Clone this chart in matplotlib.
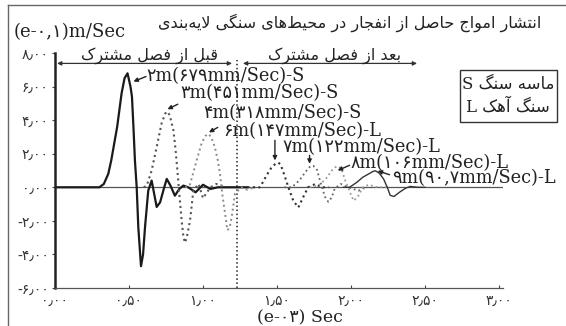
import matplotlib
matplotlib.use("Agg")
import matplotlib.pyplot as plt
from matplotlib.patches import Rectangle
from matplotlib.lines import Line2D

# ---- data: time in (e-03) Sec, velocity in (e-01) m/Sec ----
t_2m = [0.00, 0.30, 0.33, 0.36, 0.38, 0.40, 0.42, 0.45, 0.47, 0.49, 0.51, 0.52, 0.53, 0.54,
        0.552, 0.563, 0.581, 0.595, 0.608, 0.63, 0.653, 0.687, 0.71, 0.735, 0.755, 0.78,
        0.81, 0.84, 0.867, 0.90, 0.95, 1.00, 1.05, 1.10, 1.30]
v_2m = [0.0, 0.0, 0.2, 0.8, 1.6, 2.6, 3.6, 5.6, 6.5, 6.79, 6.0, 5.4, 3.6, 1.6,
        0.0, -2.4, -4.7, -4.0, -2.4, -0.2, 0.4, -1.17, -0.9, -0.1, 0.5, 0.1,
        -0.5, -0.1, 0.1, 0.0, -0.3, 0.15, -0.1, 0.0, 0.0]

t_3m = [0.60, 0.62, 0.653, 0.687, 0.72, 0.745, 0.759, 0.775, 0.80, 0.815, 0.827, 0.84,
        0.856, 0.867, 0.878, 0.89, 0.912, 0.935, 0.97, 1.00, 1.05, 1.09, 1.15]
v_3m = [0.0, 0.1, 1.0, 2.4, 3.8, 4.4, 4.51, 4.3, 3.4, 2.2, 1.0, -0.4,
        -2.0, -2.9, -3.3, -3.0, -2.0, -0.2, 0.2, -0.65, 0.0, 0.2, 0.0]

t_4m = [0.88, 0.91, 0.957, 0.99, 1.015, 1.036, 1.055, 1.08, 1.10, 1.115, 1.13, 1.149,
        1.165, 1.18, 1.194, 1.216, 1.26, 1.30, 1.35]
v_4m = [0.0, 0.1, 1.6, 2.6, 3.05, 3.18, 3.0, 2.4, 1.6, 0.8, -0.4, -1.57,
        -2.56, -2.4, -1.77, -0.38, 0.0, -0.15, 0.0]

t_6m = [1.30, 1.385, 1.43, 1.464, 1.49, 1.509, 1.525, 1.543, 1.577, 1.61, 1.644, 1.678,
        1.71, 1.76, 1.80, 1.85]
v_6m = [0.0, 0.0, 0.71, 1.2, 1.4, 1.47, 1.35, 0.9, 0.0, -0.8, -1.2, -0.57,
        0.0, 0.2, 0.0, 0.0]

t_7m = [1.55, 1.60, 1.65, 1.70, 1.725, 1.745, 1.77, 1.79, 1.824, 1.847, 1.87, 1.89,
        1.93, 1.98, 2.05, 2.10]
v_7m = [0.0, 0.0, 0.4, 1.0, 1.25, 1.28, 1.05, 0.42, -0.57, -0.87, -0.6, -0.08,
        0.2, 0.0, -0.2, 0.0]

t_8m = [1.72, 1.78, 1.83, 1.87, 1.895, 1.915, 1.935, 1.96, 1.985, 2.005, 2.02, 2.05,
        2.08, 2.12, 2.18, 2.25]
v_8m = [0.0, 0.1, 0.5, 1.0, 1.2, 1.25, 1.1, 0.42, -0.1, -0.57, -0.8, -0.5,
        0.0, 0.15, 0.0, 0.0]

t_9m = [1.95, 1.99, 2.04, 2.08, 2.12, 2.15, 2.165, 2.19, 2.22, 2.245, 2.265, 2.29,
        2.33, 2.37, 2.40, 2.45, 2.50]
v_9m = [0.0, 0.0, 0.3, 0.6, 0.8, 0.95, 0.98, 0.85, 0.5, 0.0, -0.48, -0.55,
        -0.28, -0.05, 0.05, 0.0, 0.0]

x_ticks = [0.0, 0.5, 1.0, 1.5, 2.0, 2.5, 3.0]
y_ticks = [-6, -4, -2, 0, 2, 4, 6, 8]
interface_t = 1.23

labels = ['۲m(۶۷۹mm/Sec)-S', '۳m(۴۵۱mm/Sec)-S', '۴m(۳۱۸mm/Sec)-S', '۶m(۱۴۷mm/Sec)-L',
          '۷m(۱۲۲mm/Sec)-L', '۸m(۱۰۶mm/Sec)-L', '۹m(۹۰,۷mm/Sec)-L']

# ---- simple Persian shaping (no arabic_reshaper available) ----
FORMS = {
    'ا': ('\uFE8D', '\uFE8E', None, None),
    'آ': ('\uFE81', '\uFE82', None, None),
    'ب': ('\uFE8F', '\uFE90', '\uFE91', '\uFE92'),
    'ت': ('\uFE95', '\uFE96', '\uFE97', '\uFE98'),
    'ج': ('\uFE9D', '\uFE9E', '\uFE9F', '\uFEA0'),
    'ح': ('\uFEA1', '\uFEA2', '\uFEA3', '\uFEA4'),
    'د': ('\uFEA9', '\uFEAA', None, None),
    'ر': ('\uFEAD', '\uFEAE', None, None),
    'ز': ('\uFEAF', '\uFEB0', None, None),
    'س': ('\uFEB1', '\uFEB2', '\uFEB3', '\uFEB4'),
    'ش': ('\uFEB5', '\uFEB6', '\uFEB7', '\uFEB8'),
    'ص': ('\uFEB9', '\uFEBA', '\uFEBB', '\uFEBC'),
    'ط': ('\uFEC1', '\uFEC2', '\uFEC3', '\uFEC4'),
    'ع': ('\uFEC9', '\uFECA', '\uFECB', '\uFECC'),
    'ف': ('\uFED1', '\uFED2', '\uFED3', '\uFED4'),
    'ق': ('\uFED5', '\uFED6', '\uFED7', '\uFED8'),
    'ل': ('\uFEDD', '\uFEDE', '\uFEDF', '\uFEE0'),
    'م': ('\uFEE1', '\uFEE2', '\uFEE3', '\uFEE4'),
    'ن': ('\uFEE5', '\uFEE6', '\uFEE7', '\uFEE8'),
    'ه': ('\uFEE9', '\uFEEA', '\uFEEB', '\uFEEC'),
    'و': ('\uFEED', '\uFEEE', None, None),
    'ک': ('\uFB8E', '\uFB8F', '\uFB90', '\uFB91'),
    'گ': ('\uFB92', '\uFB93', '\uFB94', '\uFB95'),
    'ی': ('\uFBFC', '\uFBFD', '\uFBFE', '\uFBFF'),
}
LAM_ALEF = {'ا': ('\uFEFB', '\uFEFC'), 'آ': ('\uFEF5', '\uFEF6')}


def fa(text):
    out = []
    n = len(text)
    i = 0
    while i < n:
        c = text[i]
        if c not in FORMS:
            if c != '\u200c':
                out.append(c)
            i += 1
            continue
        prev = text[i - 1] if i > 0 else None
        joins_prev = prev in FORMS and FORMS[prev][2] is not None
        if c == 'ل' and i + 1 < n and text[i + 1] in LAM_ALEF:
            lig = LAM_ALEF[text[i + 1]]
            out.append(lig[1] if joins_prev else lig[0])
            i += 2
            continue
        nxt = text[i + 1] if i + 1 < n else None
        joins_next = FORMS[c][2] is not None and nxt in FORMS
        iso, fin, ini, med = FORMS[c]
        if joins_prev and joins_next:
            out.append(med)
        elif joins_prev:
            out.append(fin)
        elif joins_next:
            out.append(ini)
        else:
            out.append(iso)
        i += 1
    return ''.join(reversed(out))


PD = str.maketrans('0123456789', '۰۱۲۳۴۵۶۷۸۹')


def pnum(v):
    s = f"{abs(v):.2f}".translate(PD).replace('.', '٫')
    return ('-' + s) if v < 0 else s


W, H = 566, 326
SERIF = ['DejaVu Serif', 'DejaVu Sans']
SANS = ['DejaVu Sans']

fig = plt.figure(figsize=(W / 100, H / 100), dpi=100)
fig.patch.set_facecolor('white')

# axes placed to match pixel layout: x 55..503, y 53..288
ax = fig.add_axes([55 / W, 1 - 288 / H, (503 - 55) / W, (288 - 53) / H])
ax.set_xlim(0, (503 - 55) / 148)
ax.set_ylim(-6, 8)
for s in ['top', 'right']:
    ax.spines[s].set_visible(False)
ax.spines['left'].set_linewidth(1.8)
ax.spines['left'].set_color('#222')
ax.spines['bottom'].set_linewidth(0.9)
ax.spines['bottom'].set_color('#555')

ax.set_xticks(x_ticks)
ax.set_xticklabels([pnum(v) for v in x_ticks], family=SANS, fontsize=10, color='#333')
ax.set_yticks(y_ticks)
ax.set_yticklabels([pnum(v) for v in y_ticks], family=SANS, fontsize=10, color='#333')
ax.tick_params(axis='both', length=2.5, width=0.8, color='#444', pad=2)
ax.tick_params(axis='x', direction='in', pad=4)

ax.axhline(0, color='#555', lw=0.9)
ax.plot([interface_t, interface_t], [-6, 7.6], color='#222', ls=':', lw=1.1)

ax.plot(t_2m, v_2m, color='#1a1a1a', lw=1.6, ls='-')
ax.plot(t_3m, v_3m, color='#555555', lw=1.5, ls=':')
ax.plot(t_4m, v_4m, color='#8a8a8a', lw=1.4, ls=':')
ax.plot(t_6m, v_6m, color='#333333', lw=1.5, ls=':')
ax.plot(t_7m, v_7m, color='#666666', lw=1.3, ls=':')
ax.plot(t_8m, v_8m, color='#999999', lw=1.3, ls=':')
ax.plot(t_9m, v_9m, color='#333333', lw=1.0, ls='-')

# curve labels
label_pos = [(0.62, 6.62), (0.845, 5.62), (1.0, 4.4), (1.14, 3.33),
             (1.54, 2.41), (2.0, 1.46), (2.277, 0.52)]
for txt, (tx, ty) in zip(labels, label_pos):
    ax.text(tx, ty, txt, family=SERIF, fontsize=12.8, color='#222',
            ha='left', va='center')

arrows = [((0.615, 6.6), (0.53, 6.3)), ((0.83, 4.95), (0.76, 4.65)),
          ((1.10, 3.57), (1.04, 3.27)), ((1.486, 2.8), (1.486, 1.6)),
          ((1.72, 1.9), (1.72, 1.4)), ((1.99, 1.31), (1.91, 1.0)),
          ((2.26, 0.75), (2.18, 0.98))]
for start, end in arrows:
    ax.annotate('', xy=end, xytext=start,
                arrowprops=dict(arrowstyle='-|>', color='#222', lw=1.0,
                                mutation_scale=6, shrinkA=0, shrinkB=0))

# before / after interface arrows
ax.annotate('', xy=(0.014, 7.38), xytext=(1.196, 7.38),
            arrowprops=dict(arrowstyle='<|-|>', color='#333', lw=0.9,
                            mutation_scale=6, shrinkA=0, shrinkB=0))
ax.annotate('', xy=(1.27, 7.38), xytext=(2.446, 7.38),
            arrowprops=dict(arrowstyle='<|-|>', color='#333', lw=0.9,
                            mutation_scale=6, shrinkA=0, shrinkB=0))
ax.text(0.636, 7.86, fa('قبل از فصل مشترک'), family=SANS, fontsize=11.5,
        ha='center', va='center', color='#222')
ax.text(1.89, 7.86, fa('بعد از فصل مشترک'), family=SANS, fontsize=11.5,
        ha='center', va='center', color='#222')

# figure texts
fig.text(541 / W, 1 - 23 / H, fa('انتشار امواج حاصل از انفجار در محیط\u200cهای سنگی لایه\u200cبندی'),
         family=SANS, fontsize=11.5, ha='right', va='center', color='#222')
fig.text(14 / W, 1 - 32 / H, '(e-۰,۱)m/Sec', family=SERIF, fontsize=13,
         ha='left', va='center', color='#222')
fig.text(300 / W, 1 - 318 / H, '(e-۰۳) Sec', family=SERIF, fontsize=12.5,
         ha='center', va='center', color='#222')

# legend box
fig.patches.append(Rectangle((460 / W, 1 - 122 / H), 97 / W, 52 / H,
                             transform=fig.transFigure, fill=False,
                             edgecolor='#333', lw=1.0))
fig.text(508 / W, 1 - 84 / H, 'S ' + fa('ماسه سنگ'), family=SERIF, fontsize=12,
         ha='center', va='center', color='#222')
fig.text(508 / W, 1 - 107 / H, 'L ' + fa('سنگ آهک'), family=SERIF, fontsize=12,
         ha='center', va='center', color='#222')

# outer frame of the scanned figure
fig.lines.append(Line2D([8 / W, 8 / W], [0, 1 - 5 / H], transform=fig.transFigure,
                        color='#666', lw=1.0))
fig.lines.append(Line2D([8 / W, 1], [1 - 5 / H, 1 - 5 / H], transform=fig.transFigure,
                        color='#666', lw=1.0))

fig.savefig('out.png', dpi=100)
